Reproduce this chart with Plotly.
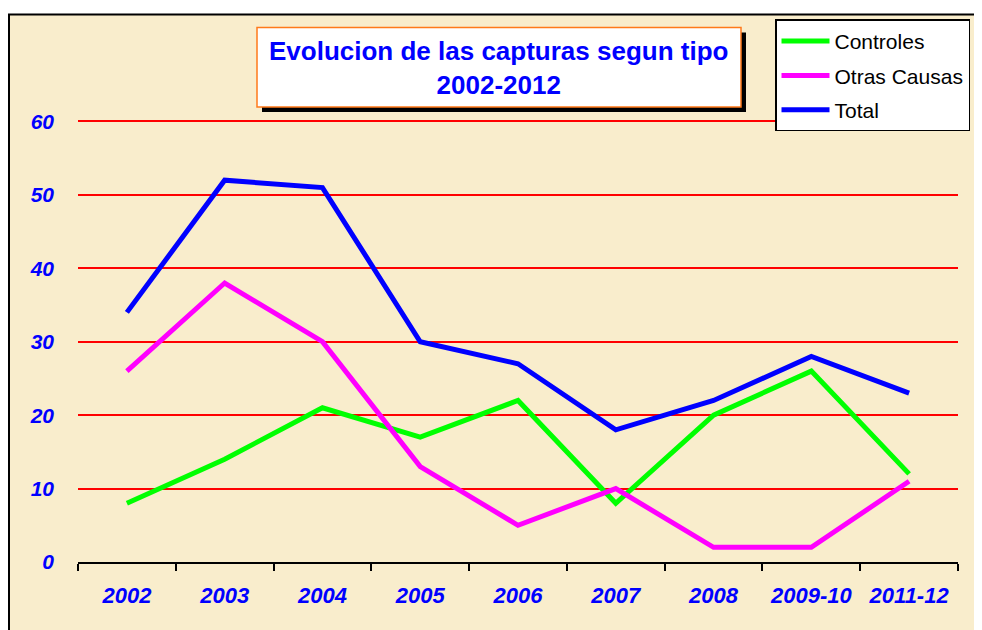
import plotly.graph_objects as go

categories = ["2002", "2003", "2004", "2005", "2006", "2007", "2008", "2009-10", "2011-12"]
controles = [8, 14, 21, 17, 22, 8, 20, 26, 12]
otras_causas = [26, 38, 30, 13, 5, 10, 2, 2, 11]
total = [34, 52, 51, 30, 27, 18, 22, 28, 23]
y_ticks = [0, 10, 20, 30, 40, 50, 60]

# page has an 8px body margin; work in page pixels and convert
OFF = 8
W, H = 982 - OFF, 630 - OFF
L, R, T, B = 78 - OFF, W - (958 - OFF), 110, H - (562 - OFF)
PW, PH = W - L - R, H - T - B


def px(x):
    return (x - OFF - L) / PW


def py(y):
    return (H - B - (y - OFF)) / PH


FONT = "Liberation Sans, Arial"

fig = go.Figure()
series = [("Controles", controles, "#00FF00"),
          ("Otras Causas", otras_causas, "#FF00FF"),
          ("Total", total, "#0000FF")]
for name, vals, col in series:
    fig.add_trace(go.Scatter(x=categories, y=vals, name=name, mode="lines",
                             legendgroup=name,
                             line=dict(color=col, width=5)))

shapes = [
    # beige background with black frame
    dict(type="rect", xref="paper", yref="paper", x0=px(9), x1=px(1000),
         y0=py(650), y1=py(12), fillcolor="#F9EDCC",
         line=dict(color="black", width=2), layer="below"),
    # title shadow
    dict(type="rect", xref="paper", yref="paper", x0=px(262), x1=px(746),
         y0=py(110), y1=py(30), fillcolor="black", line=dict(width=0), layer="above"),
    # title box
    dict(type="rect", xref="paper", yref="paper", x0=px(257), x1=px(741),
         y0=py(105), y1=py(25), fillcolor="white",
         line=dict(color="#FF7A1A", width=1.5), layer="above"),
]

fig.update_layout(
    width=W, height=H,
    margin=dict(l=L, r=R, t=T, b=B, pad=0),
    paper_bgcolor="white",
    plot_bgcolor="rgba(0,0,0,0)",
    shapes=shapes,
    annotations=[dict(xref="paper", yref="paper", x=px(498), y=py(66),
                      text="<b>Evolucion de las capturas segun tipo<br>2002-2012</b>",
                      showarrow=False, xanchor="center", yanchor="middle",
                      font=dict(family=FONT, size=26, color="#0000FF"))],
    showlegend=True,
    legend=dict(x=px(775), y=py(17), xanchor="left", yanchor="top",
                bgcolor="white", bordercolor="black", borderwidth=1.5,
                font=dict(family=FONT, size=21, color="black"),
                tracegroupgap=4, itemwidth=48),
    xaxis=dict(type="category", range=[-0.5, 8.5], showgrid=False,
               showline=True, linecolor="black", linewidth=2,
               ticks="outside", tickson="boundaries", ticklen=7, tickwidth=2,
               tickcolor="black", ticklabelstandoff=13,
               tickfont=dict(family=FONT, size=22,
                             color="#0000FF", weight="bold", style="italic"),
               zeroline=False),
    yaxis=dict(range=[0, 60.2], tickvals=y_ticks, showgrid=True,
               gridcolor="#FF0000", gridwidth=1.5, zeroline=False,
               showline=False, ticks="", ticklabelstandoff=23,
               tickfont=dict(family=FONT, size=21,
                             color="#0000FF", weight="bold", style="italic")),
    font=dict(family=FONT),
)

fig.write_html("out.html")
